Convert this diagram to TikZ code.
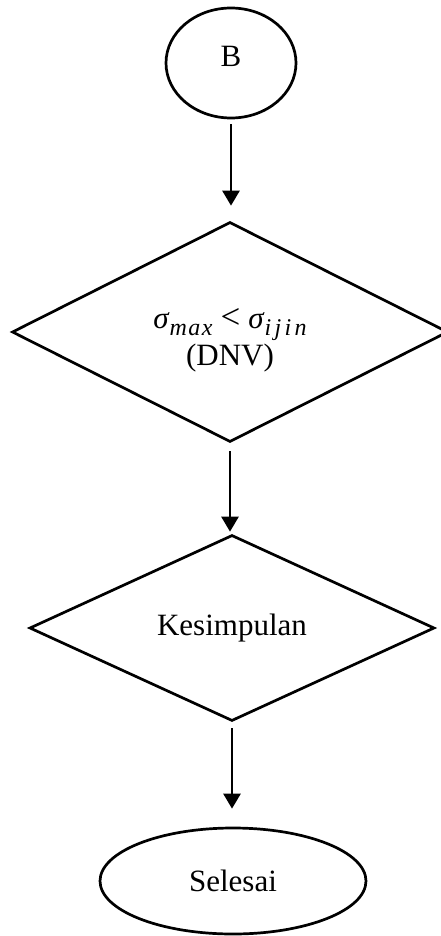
\documentclass[tikz,border=0pt]{standalone}
\usepackage{fontspec}
\setmainfont{Liberation Serif}
\usetikzlibrary{shapes.geometric,arrows.meta}

\tikzset{
  flowline/.style={line width=2.7pt},
  terminal/.style={ellipse, draw, flowline, inner sep=0pt},
  decision/.style={diamond, draw, flowline, inner sep=0pt, shape aspect=2,
                   align=center},
  flowarrow/.style={flowline, -{Triangle[width=17pt,length=15pt]}}
}
% italic subscript set in the text font, with optional tracking
\newcommand{\lowidx}[2]{\raisebox{-7pt}{\fontsize{24}{24}\selectfont\itshape\addfontfeature{LetterSpace=#1}#2}}

\begin{document}
\begin{tikzpicture}[x=1pt, y=-1pt,
  every node/.style={font=\fontsize{31}{37}\selectfont}]
  \useasboundingbox (0,0) rectangle (440,936);

  % connector symbol
  \node[terminal, minimum width=130pt, minimum height=110pt,
        text height=21pt, text depth=14pt] (b) at (231,63) {B};

  % check of the maximum stress
  \node[decision, minimum width=436pt, minimum height=220pt] (cek) at (230,332)
    {\rule{0pt}{36pt}\textit{σ}\lowidx{6}{max}\hspace{8pt}{\fontsize{35}{37}\selectfont<}\hspace{8pt}\textit{σ}\lowidx{14}{ijin}\\(DNV)};

  % conclusion
  \node[decision, minimum width=405pt, minimum height=186pt] (kes) at (232,628)
    {Kesimpulan};

  % end
  \node[terminal, minimum width=266pt, minimum height=106pt] (end) at (233,881) {Selesai};

  \draw[flowarrow, shorten <=5pt, shorten >=15pt] (b.south) -- (b.south |- cek.north);
  \draw[flowarrow, shorten <=8pt, shorten >=2pt] (cek.south) -- (cek.south |- kes.north);
  \draw[flowarrow, shorten <=6pt, shorten >=18pt] (kes.south) -- (kes.south |- end.north);
\end{tikzpicture}
\end{document}
